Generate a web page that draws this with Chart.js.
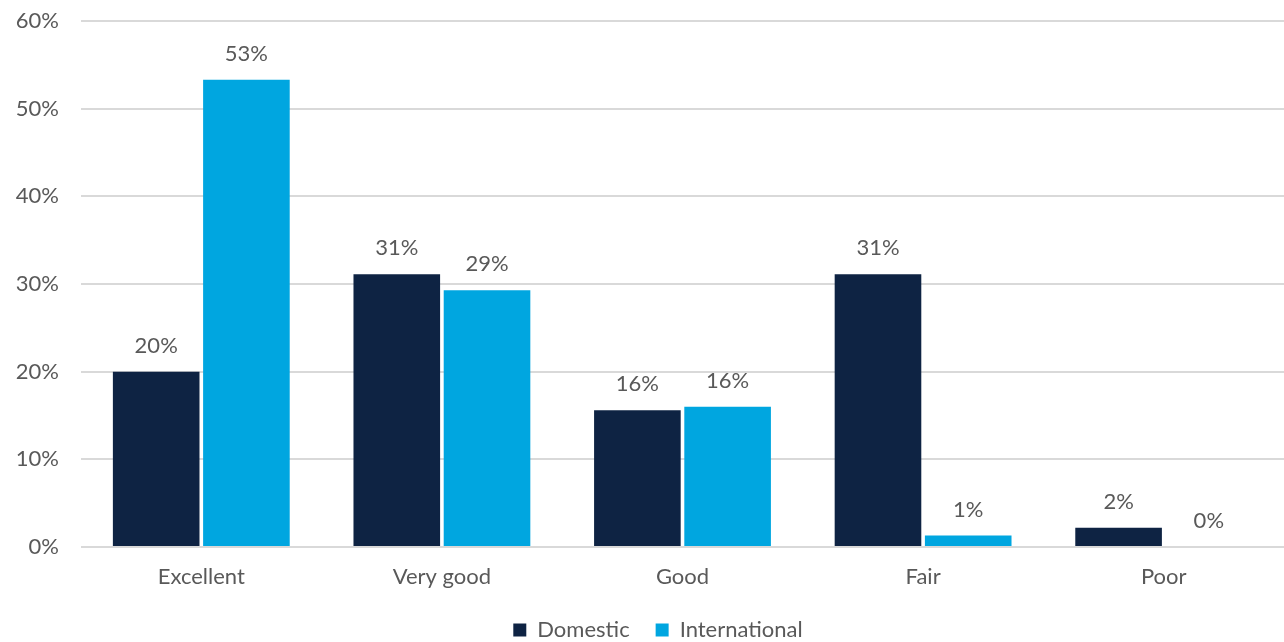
<!DOCTYPE html>
<html>
<head>
<meta charset="utf-8">
<script src="https://cdn.jsdelivr.net/npm/chart.js@4.4.1/dist/chart.umd.min.js"></script>
<style>
  html, body { margin: 0; padding: 0; background: #fff; }
  #wrap { width: 1284px; height: 642px; }
</style>
</head>
<body>
<div id="wrap"><canvas id="chart"></canvas></div>
<script>
const categories = ['Excellent', 'Very good', 'Good', 'Fair', 'Poor'];
const domestic = [20.0, 31.1, 15.6, 31.1, 2.2];
const international = [53.3, 29.3, 16.0, 1.3, 0];
const domesticLabels = ['20%', '31%', '16%', '31%', '2%'];
const internationalLabels = ['53%', '29%', '16%', '1%', '0%'];

const FONT = 'Lato, "Open Sans", sans-serif';
const GREY = '#595959';

// value labels above each bar
const barLabels = {
  id: 'barLabels',
  afterDatasetsDraw(chart) {
    const ctx = chart.ctx;
    const texts = [domesticLabels, internationalLabels];
    ctx.save();
    ctx.font = '22px ' + FONT;
    ctx.fillStyle = GREY;
    ctx.textAlign = 'center';
    ctx.textBaseline = 'middle';
    chart.data.datasets.forEach((ds, i) => {
      chart.getDatasetMeta(i).data.forEach((bar, j) => {
        ctx.fillText(texts[i][j], bar.x, bar.y - 26);
      });
    });
    ctx.restore();
  }
};

// nudge the legend a bit right, like the original
const legendShift = {
  id: 'legendShift',
  afterLayout(chart) {
    chart.legend.left += 16;
    chart.legend.right += 16;
  }
};

const font = { family: FONT, size: 22 };

new Chart(document.getElementById('chart').getContext('2d'), {
  type: 'bar',
  data: {
    labels: categories,
    datasets: [
      { label: 'Domestic', data: domestic, backgroundColor: '#0e2343' },
      { label: 'International', data: international, backgroundColor: '#00a6e0' }
    ]
  },
  options: {
    responsive: true,
    maintainAspectRatio: false,
    animation: false,
    layout: { padding: { top: 21, right: 0, left: 0, bottom: -9 } },
    datasets: { bar: { categoryPercentage: 0.75, barPercentage: 0.96 } },
    plugins: {
      legend: {
        position: 'bottom',
        labels: {
          color: GREY,
          font: font,
          boxWidth: 13,
          boxHeight: 13,
          padding: 26
        }
      },
      tooltip: { enabled: false }
    },
    scales: {
      x: {
        afterFit(scale) { scale.height = 46; },
        grid: { display: false, drawTicks: false },
        border: { display: false },
        ticks: { color: GREY, font: font, padding: 17 }
      },
      y: {
        min: 0,
        max: 60,
        afterFit(scale) {
          scale.width = 81;
          scale.paddingTop = 0;
          scale.paddingBottom = 0;
        },
        grid: { color: '#d9d9d9', lineWidth: 2, drawTicks: false },
        border: { display: false },
        ticks: {
          stepSize: 10,
          padding: 22,
          color: GREY,
          font: font,
          callback: v => v + '%'
        }
      }
    }
  },
  plugins: [barLabels, legendShift]
});
</script>
</body>
</html>
